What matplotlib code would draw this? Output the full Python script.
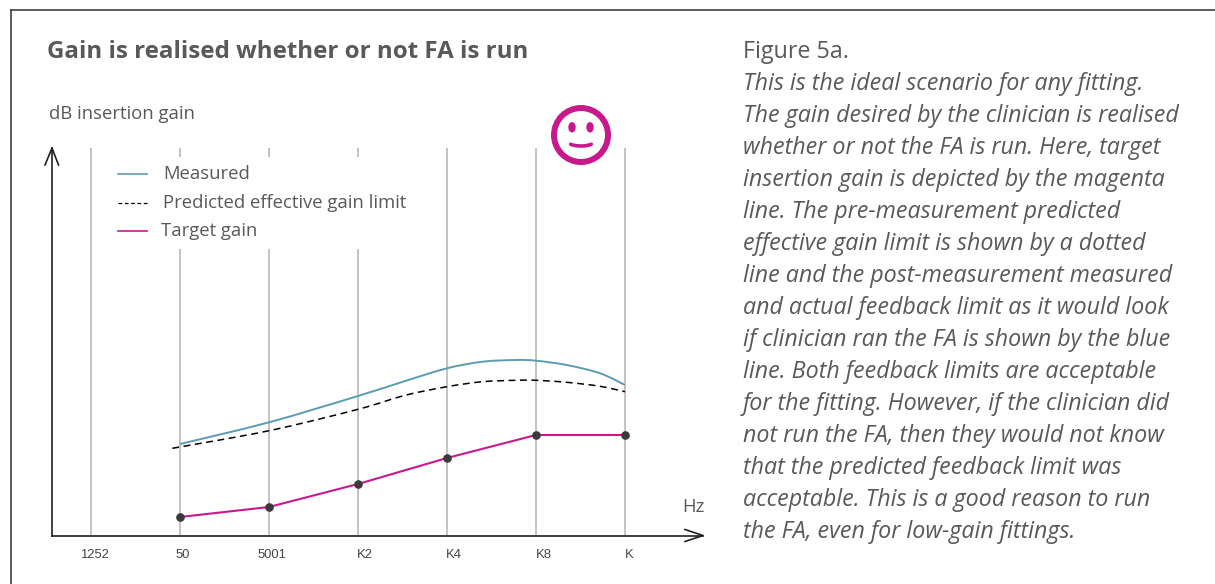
import matplotlib
matplotlib.use('Agg')
import matplotlib.pyplot as plt
from matplotlib.lines import Line2D
from matplotlib.patches import Circle, Arc, Ellipse, PathPatch
from matplotlib.path import Path

W, H = 1215, 584

# Data: frequency slots are 0..6, y is height above the baseline (arbitrary dB scale)
freq_labels = ['1252', '50', '5001', 'K2', 'K4', 'K8', 'K']
freq_pos = [0, 1, 2, 3, 4, 5, 6]

target_x = [1, 2, 3, 4, 5, 6]
target_y = [18, 28, 51, 77, 100, 100]

measured_x = [1, 2, 3, 3.53, 4, 4.40, 4.78, 5, 5.345, 5.72, 6]
measured_y = [91, 112.7, 139, 154, 166.7, 173.3, 175, 174.3, 170, 161.7, 150]

predicted_x = [0.913, 2, 3, 3.53, 4, 4.40, 4.78, 5, 5.345, 5.72, 6]
predicted_y = [86.7, 104.3, 125.7, 139.7, 148.3, 153.3, 154.7, 154.7, 152.7, 148.7, 143.3]

legend_labels = ['Measured', 'Predicted effective gain limit', 'Target gain']

caption_head = 'Figure 5a.'
caption_lines = [
    'This is the ideal scenario for any fitting.',
    'The gain desired by the clinician is realised',
    'whether or not the FA is run. Here, target',
    'insertion gain is depicted by the magenta',
    'line. The pre-measurement predicted',
    'effective gain limit is shown by a dotted',
    'line and the post-measurement measured',
    'and actual feedback limit as it would look',
    'if clinician ran the FA is shown by the blue',
    'line. Both feedback limits are acceptable',
    'for the fitting. However, if the clinician did',
    'not run the FA, then they would not know',
    'that the predicted feedback limit was',
    'acceptable. This is a good reason to run',
    'the FA, even for low-gain fittings.',
]

TEXT = '#58595b'
DARK = '#231f20'
GRID = '#b3b3b3'
MAGENTA = '#c8188c'
BLUE = '#5c9bb0'
PT = 72 / 100  # font points per pixel at dpi 100


def px(x, y):
    # figure fractions from pixel position
    return x / W, 1 - y / H


def smooth_path(xs, ys):
    # bezier curve that goes through every read point, so the line has no kinks
    pts = list(zip(xs, ys))
    verts = [pts[0]]
    codes = [Path.MOVETO]
    for i in range(len(pts) - 1):
        p0 = pts[max(i - 1, 0)]
        p1 = pts[i]
        p2 = pts[i + 1]
        p3 = pts[min(i + 2, len(pts) - 1)]
        c1 = (p1[0] + (p2[0] - p0[0]) / 6, p1[1] + (p2[1] - p0[1]) / 6)
        c2 = (p2[0] - (p3[0] - p1[0]) / 6, p2[1] - (p3[1] - p1[1]) / 6)
        verts += [c1, c2, p2]
        codes += [Path.CURVE4] * 3
    return Path(verts, codes)


plt.rcParams['font.family'] = ['Open Sans', 'DejaVu Sans']
fig = plt.figure(figsize=(W / 100, H / 100), dpi=100)

# Axes spans the plot area, 52..703 px across and 148..535 px down
ax = fig.add_axes([52 / W, 1 - 535 / H, (703 - 52) / W, (535 - 148) / H])
ax.set_xlim((52 - 91) / 89, (703 - 91) / 89)
ax.set_ylim(0, 387)
ax.axis('off')

# Vertical grid lines, the first ones are cut by the legend
for pos in freq_pos:
    ax.plot([pos, pos], [0, 387], color=GRID, lw=1.1, zorder=1, solid_capstyle='butt')
for pos in [1, 2, 3]:
    ax.plot([pos, pos], [286, 378], color='white', lw=3, zorder=1.5, solid_capstyle='butt')

ax.add_patch(PathPatch(smooth_path(measured_x, measured_y), fill=False, ec=BLUE, lw=1.4, zorder=3))
ax.add_patch(PathPatch(smooth_path(predicted_x, predicted_y), fill=False, ec='black', lw=1.1,
                       ls=(0, (4.5, 3)), zorder=3))
ax.plot(target_x, target_y, color=MAGENTA, lw=1.5, zorder=3)
ax.plot(target_x, target_y, ls='none', marker='o', ms=5.2, color='#3a3a3c', zorder=4)

# Frame, top and left only
fig.add_artist(Line2D([11 / W, 1], [1 - 10 / H] * 2, color='#404040', lw=1.2))
fig.add_artist(Line2D([11 / W] * 2, [0, 1 - 10 / H], color='#404040', lw=1.2))

# Axis lines and arrow heads
fig.add_artist(Line2D([52 / W, 703 / W], [1 - 535.5 / H] * 2, color=DARK, lw=1.2))
fig.add_artist(Line2D([52 / W, 52 / W], [1 - 535.5 / H, 1 - 148 / H], color=DARK, lw=1.2))
fig.add_artist(Line2D([45 / W, 52 / W, 58.5 / W], [1 - 165 / H, 1 - 148 / H, 1 - 165 / H], color=DARK, lw=1.2))
fig.add_artist(Line2D([685 / W, 703 / W, 685 / W], [1 - 529.5 / H, 1 - 535.5 / H, 1 - 541.5 / H], color=DARK, lw=1.2))

# Tick labels sit a little right of their grid lines
tick_px = [94.7, 183, 271.7, 365, 454, 543.5, 629]
for label, x in zip(freq_labels, tick_px):
    fig.text(*px(x, 558), label, family='Liberation Sans', fontsize=13 * PT, color='#444444',
             ha='center', va='baseline')

fig.text(*px(682, 512), 'Hz', fontsize=18.5 * PT, color=TEXT, va='baseline')
fig.text(*px(49, 119), 'dB insertion gain', fontsize=18.5 * PT, color=TEXT, va='baseline')
fig.text(*px(47, 58), 'Gain is realised whether or not FA is run', fontsize=24.15 * PT,
         fontweight='bold', color=TEXT, va='baseline')

# Legend by hand to keep the uneven spacing
fig.add_artist(Line2D([118 / W, 147 / W], [1 - 174 / H] * 2, color=BLUE, lw=1.2))
fig.add_artist(Line2D([118 / W, 147 / W], [1 - 202.5 / H] * 2, color='black', lw=0.9, ls=(0, (3, 2.05))))
fig.add_artist(Line2D([118 / W, 147 / W], [1 - 230.5 / H] * 2, color=MAGENTA, lw=1.2))
for label, x, y in zip(legend_labels, [163, 163, 161], [179, 208, 236]):
    fig.text(*px(x, y), label, fontsize=18.5 * PT, color=TEXT, va='baseline')

# Smiley, drawn in pixel space
face = fig.add_axes([0, 0, 1, 1], facecolor='none')
face.set_xlim(0, W)
face.set_ylim(H, 0)
face.axis('off')
face.add_patch(Circle((581, 135), 27, fill=False, ec=MAGENTA, lw=4.3))
face.add_patch(Ellipse((572, 127.3), 6, 9, color=MAGENTA))
face.add_patch(Ellipse((590, 127.3), 6, 9, color=MAGENTA))
face.add_patch(Arc((581, 141.5), 26, 9, theta1=15, theta2=165, color=MAGENTA, lw=2.6, capstyle='round'))

# Caption on the right
fig.text(*px(743, 58), caption_head, fontsize=23.3 * PT, color=TEXT, va='baseline')
for i, line in enumerate(caption_lines):
    fig.text(*px(743, 90.5 + i * 32), line, fontsize=23.3 * PT, style='italic', color=TEXT, va='baseline')

fig.savefig('out.png', dpi=100)
